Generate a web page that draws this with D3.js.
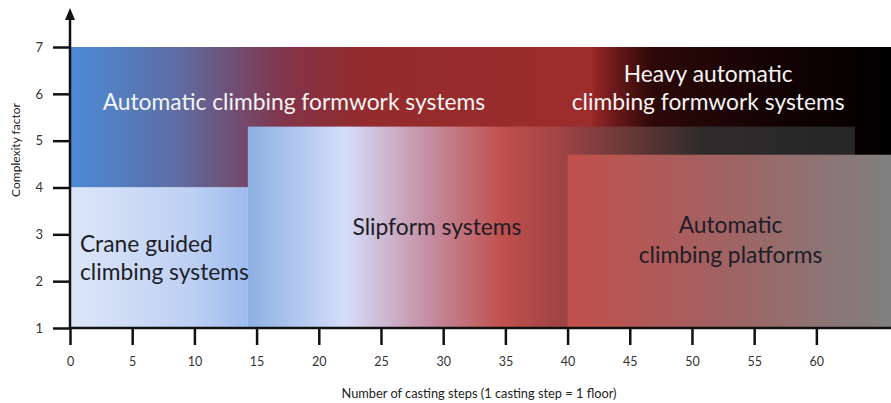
<!DOCTYPE html>
<html>
<head>
<meta charset="utf-8">
<script src="https://cdn.jsdelivr.net/npm/d3@7"></script>
<style>
  body { margin: 0; background: #fff; }
  text { font-family: Lato, "Open Sans", sans-serif; }
</style>
</head>
<body>
<script>
// formwork systems, drawn back to front
const systems = [
  "Automatic climbing formwork systems",
  "Heavy automatic climbing formwork systems",
  "Slipform systems",
  "Crane guided climbing systems",
  "Automatic climbing platforms"
]
const stepsFrom = [0, 42, 14.3, 0, 40]
const stepsTo = [43, 66, 63.1, 14.3, 66]
const complexityFrom = [4, 4, 1, 1, 1]
const complexityTo = [7, 7, 5.3, 4, 4.7]

const xTicks = [0, 5, 10, 15, 20, 25, 30, 35, 40, 45, 50, 55, 60]
const yTicks = [1, 2, 3, 4, 5, 6, 7]
const xTitle = "Number of casting steps (1 casting step = 1 floor)"
const yTitle = "Complexity factor"

// label lines for each system
const labelLines = [
  ["Automatic climbing formwork systems"],
  ["Heavy automatic", "climbing formwork systems"],
  ["Slipform systems"],
  ["Crane guided", "climbing systems"],
  ["Automatic", "climbing platforms"]
]

// styling / layout, kept apart from the values
const gradients = [
  [[0, "#4c8bd6"], [0.2, "#5d6da4"], [0.4, "#82344a"], [0.55, "#932b2c"], [1, "#9e2c2c"]],
  [[0, "#962828"], [0.07, "#6e1a1a"], [0.2, "#2e0808"], [0.6, "#140303"], [1, "#000000"]],
  [[0, "#8cb0e2"], [0.16, "#d5ddfb"], [0.3, "#c48c9f"], [0.42, "#c0504d"], [0.52, "#9d4343"], [0.75, "#2e2b2b"], [1, "#262626"]],
  [[0, "#dde6f8"], [0.7, "#bccff3"], [1, "#9dbbef"]],
  [[0, "#c24f4c"], [0.5, "#a06363"], [1, "#808080"]]
]
const labelStyle = [
  {x: 18.0, y: [5.65], anchor: "middle", fill: "#f4f4f4"},
  {x: 51.3, y: [6.25, 5.65], anchor: "middle", fill: "#f4f4f4"},
  {x: 29.5, y: [2.99], anchor: "middle", fill: "#1d1d28"},
  {x: 0.8, y: [2.62, 2.02], anchor: "start", fill: "#1d1d28"},
  {x: 53.1, y: [3.03, 2.39], anchor: "middle", fill: "#1d1d28"}
]

const width = 891
const height = 403

const svg = d3.select("body").append("svg")
  .attr("width", width)
  .attr("height", height)

const x = d3.scaleLinear().domain([0, 66]).range([70, 891])
const y = d3.scaleLinear().domain([1, 7]).range([328, 47])

const defs = svg.append("defs")
systems.forEach((name, i) => {
  const g = defs.append("linearGradient")
    .attr("id", "grad" + i)
    .attr("x1", 0).attr("x2", 1).attr("y1", 0).attr("y2", 0)
  gradients[i].forEach(s => {
    g.append("stop").attr("offset", s[0]).attr("stop-color", s[1])
  })
})

svg.append("g")
  .selectAll("rect")
  .data(systems)
  .join("rect")
  .attr("x", (d, i) => x(stepsFrom[i]))
  .attr("y", (d, i) => y(complexityTo[i]))
  .attr("width", (d, i) => x(stepsTo[i]) - x(stepsFrom[i]))
  .attr("height", (d, i) => y(complexityFrom[i]) - y(complexityTo[i]))
  .attr("fill", (d, i) => "url(#grad" + i + ")")

const labels = svg.append("g")
  .style("font-size", "22.8px")
systems.forEach((name, i) => {
  const st = labelStyle[i]
  labelLines[i].forEach((line, j) => {
    labels.append("text")
      .attr("x", x(st.x))
      .attr("y", y(st.y[j]))
      .attr("text-anchor", st.anchor)
      .attr("fill", st.fill)
      .text(line)
  })
})

// axes
const xAxis = d3.axisBottom(x).tickValues(xTicks).tickSize(17).tickPadding(12)
const yAxis = d3.axisLeft(y).tickValues(yTicks).tickSize(17).tickPadding(10)
  .tickFormat(d3.format("d"))

const gx = svg.append("g")
  .attr("transform", "translate(0," + y(1) + ")")
  .call(xAxis)
gx.select(".domain").remove()
gx.selectAll("line").attr("stroke", "#111").attr("stroke-width", 2.5)
gx.selectAll("text").attr("fill", "#333").style("font-size", "12.5px")
  .style("font-family", "Lato, sans-serif")

const gy = svg.append("g")
  .attr("transform", "translate(" + x(0) + ",0)")
  .call(yAxis)
gy.select(".domain").remove()
gy.selectAll("line").attr("stroke", "#111").attr("stroke-width", 2.5)
gy.selectAll("text").attr("fill", "#333").style("font-size", "13px")
  .style("font-family", "Lato, sans-serif")

// axis lines
svg.append("line")
  .attr("x1", x(0)).attr("x2", width)
  .attr("y1", y(1)).attr("y2", y(1))
  .attr("stroke", "#111").attr("stroke-width", 2.5)
svg.append("line")
  .attr("x1", x(0)).attr("x2", x(0))
  .attr("y1", y(1)).attr("y2", 16)
  .attr("stroke", "#111").attr("stroke-width", 2.5)
svg.append("path")
  .attr("d", d3.line()([[x(0) - 5, 20], [x(0), 8], [x(0) + 5, 20]]) + "Z")
  .attr("fill", "#111")

svg.append("text")
  .attr("x", 479).attr("y", 398)
  .attr("text-anchor", "middle")
  .attr("fill", "#222")
  .style("font-size", "12.8px")
  .text(xTitle)

svg.append("text")
  .attr("transform", "translate(20,150) rotate(-90)")
  .attr("text-anchor", "middle")
  .attr("fill", "#222")
  .style("font-size", "12px")
  .text(yTitle)
</script>
</body>
</html>
